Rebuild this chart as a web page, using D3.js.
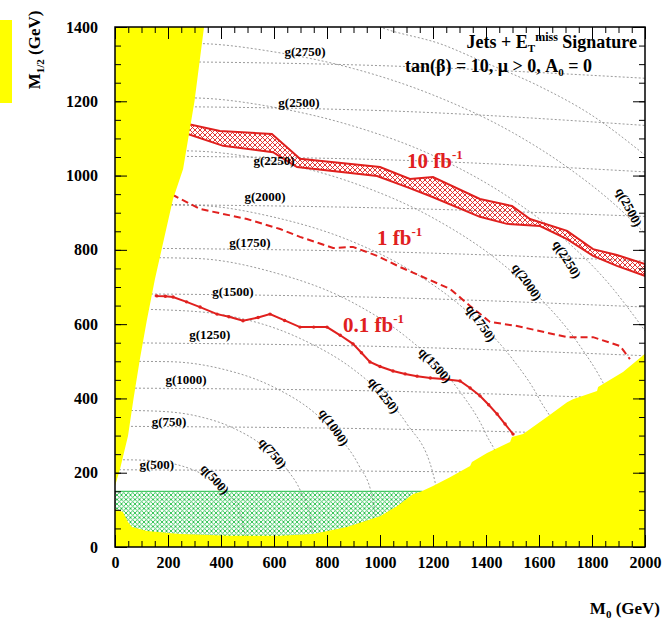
<!DOCTYPE html>
<html>
<head>
<meta charset="utf-8">
<script src="https://cdn.jsdelivr.net/npm/d3@7"></script>
<style>
body { margin: 0; background: #fff; }
svg text { font-family: "Liberation Serif", "DejaVu Serif", serif; font-weight: bold; }
</style>
</head>
<body>
<div id="chart"></div>
<script>
// Axis ticks
const m0Ticks = [0, 200, 400, 600, 800, 1000, 1200, 1400, 1600, 1800, 2000];
const m12Ticks = [0, 200, 400, 600, 800, 1000, 1200, 1400];

// Gluino mass contours: M1/2 at M0 = 0, 1000, 2000
const gluinoMasses = [500, 750, 1000, 1250, 1500, 1750, 2000, 2250, 2500, 2750];
const gluinoM12 = [
    [208, 204, 198], [325, 318, 300], [428, 420, 398], [550, 540, 515], [682, 672, 646],
    [805, 795, 770], [923, 913, 890], [1053, 1043, 1010], [1187, 1175, 1135], [1308, 1296, 1262]
];
const gluinoLabelPos = [
    [158, 223], [204, 339], [268, 452], [358, 573], [445, 689],
    [509, 821], [566, 945], [600, 1040], [694, 1198], [717, 1335]
];

// Squark mass contours [M0, M1/2]
const squarkMasses = [500, 750, 1000, 1250, 1500, 1750, 2000, 2250, 2500, 2750];
const squarkLines = [
    [[0, 235], [100, 234], [200, 227], [300, 206], [380, 175], [430, 140], [470, 96], [500, 0]],
    [[0, 368], [150, 366], [300, 354], [450, 319], [550, 277], [650, 208], [700, 151], [740, 69], [750, 0]],
    [[0, 500], [200, 499], [400, 480], [600, 430], [750, 363], [850, 293], [920, 220], [970, 137], [1000, 0]],
    [[0, 641], [200, 638], [400, 626], [700, 561], [900, 478], [1000, 417], [1100, 333], [1200, 198], [1250, 0]],
    [[0, 780], [300, 777], [600, 739], [900, 657], [1100, 565], [1200, 502], [1300, 420], [1400, 304], [1460, 195], [1500, 0]],
    [[0, 922], [300, 920], [600, 888], [900, 821], [1100, 751], [1300, 652], [1400, 587], [1500, 506], [1600, 400], [1700, 235], [1750, 0]],
    [[0, 1069], [300, 1066], [600, 1038], [900, 980], [1200, 886], [1450, 769], [1600, 673], [1750, 546], [1850, 430], [1950, 252], [2000, 0]],
    [[0, 1211], [300, 1209], [600, 1184], [900, 1133], [1200, 1054], [1500, 935], [1700, 826], [1850, 720], [2000, 582]],
    [[0, 1360], [340, 1355], [600, 1333], [900, 1288], [1200, 1217], [1500, 1116], [1700, 1026], [1900, 913], [2000, 844]],
    [[900, 1430], [1000, 1400], [1238, 1352], [1377, 1310], [1600, 1241], [1800, 1162], [2000, 1055]]
];
const squarkLabelPos = [
    [377, 183, 48], [596, 253, 50], [826, 323, 55], [1015, 409, 52], [1208, 490, 48],
    [1381, 603, 55], [1555, 714, 55], [1706, 775, 58], [1940, 915, 62], null
];

// Reach contours
const reach10Upper = [[250, 1140], [275, 1139], [396, 1120], [592, 1112], [698, 1045], [1000, 1023], [1113, 991], [1200, 996],
    [1377, 937], [1498, 918], [1566, 883], [1706, 851], [1804, 802], [1894, 786], [2000, 762]];
const reach10Lower = [[250, 1113], [275, 1112], [408, 1080], [596, 1063], [687, 1023], [989, 999], [1102, 969], [1189, 945],
    [1377, 889], [1479, 870], [1604, 864], [1706, 829], [1804, 784], [1894, 757], [2000, 730]];
const reach1 = [[215, 948], [226, 945], [321, 910], [498, 883], [623, 856], [698, 835], [823, 805], [898, 808], [989, 784],
    [1075, 754], [1264, 695], [1340, 649], [1415, 606], [1517, 595], [1706, 565], [1804, 565], [1906, 541], [1943, 506]];
const reach01 = [[150, 677], [158, 676], [190, 675], [219, 673], [270, 660], [321, 646], [385, 627], [430, 620], [483, 609],
    [540, 618], [585, 627], [640, 610], [698, 592], [750, 592], [800, 592], [850, 570], [898, 547], [930, 523], [962, 498],
    [1000, 486], [1049, 474], [1095, 466], [1140, 460], [1190, 455], [1238, 452], [1302, 447], [1340, 428], [1377, 407],
    [1410, 383], [1442, 358], [1472, 331], [1502, 304]];

// Excluded regions
const leftExcluded = [[0, 1400], [336, 1400], [300, 1200], [257, 1018], [219, 937], [185, 830], [151, 722], [120, 610],
    [94, 506], [70, 400], [49, 299], [19, 210], [0, 164]];
const bottomExcluded = [[0, 0], [0, 102], [30, 94], [49, 67], [64, 54], [121, 43], [245, 35], [434, 30], [623, 30], [747, 35],
    [875, 54], [1000, 83], [1064, 110], [1125, 143], [1151, 148], [1200, 164], [1264, 188], [1340, 218], [1347, 229],
    [1404, 253], [1491, 283], [1498, 296], [1540, 304], [1630, 350], [1706, 390], [1728, 398], [1819, 420], [1823, 431],
    [1917, 471], [2000, 520], [2000, 0]];
const lepBand = [0, 1160, 150]; // M0 from, M0 to, M1/2 top

const width = 670, height = 623;
const svg = d3.select("#chart")
    .append("svg")
    .attr("width", width)
    .attr("height", height);

const x = d3.scaleLinear().domain([0, 2000]).range([115, 645]);
const y = d3.scaleLinear().domain([0, 1400]).range([547, 27]);

const defs = svg.append("defs");
defs.append("clipPath").attr("id", "plot")
    .append("rect").attr("x", 115).attr("y", 27).attr("width", 530).attr("height", 520);

function hatch(id, color, size, sw) {
    const p = defs.append("pattern").attr("id", id)
        .attr("patternUnits", "userSpaceOnUse")
        .attr("width", size).attr("height", size);
    p.append("path")
        .attr("d", `M0,0L${size},${size}M${size},0L0,${size}`)
        .attr("stroke", color).attr("stroke-width", sw).attr("fill", "none");
}
hatch("redHatch", "#e0201e", 5, 0.9);
hatch("greenHatch", "#25c04a", 4.5, 0.9);

// little yellow block at far left
svg.append("rect").attr("x", 0).attr("y", 20).attr("width", 12).attr("height", 83).attr("fill", "#ffff00");

const plot = svg.append("g").attr("clip-path", "url(#plot)");

const line = d3.line().x(d => x(d[0])).y(d => y(d[1]));
const curve = d3.line().x(d => x(d[0])).y(d => y(d[1])).curve(d3.curveMonotoneX);

// gluino contours
plot.append("g").selectAll("path")
    .data(gluinoM12)
    .enter()
    .append("path")
    .attr("d", d => curve([[0, d[0]], [1000, d[1]], [2000, d[2]]]))
    .attr("fill", "none")
    .attr("stroke", "#808080")
    .attr("stroke-width", 0.8)
    .attr("stroke-dasharray", "2,2");

// squark contours
plot.append("g").selectAll("path")
    .data(squarkLines)
    .enter()
    .append("path")
    .attr("d", d => curve(d))
    .attr("fill", "none")
    .attr("stroke", "#808080")
    .attr("stroke-width", 0.8)
    .attr("stroke-dasharray", "2,2");

// contour labels
svg.append("g").selectAll("text")
    .data(gluinoMasses)
    .enter()
    .append("text")
    .attr("x", (d, i) => x(gluinoLabelPos[i][0]))
    .attr("y", (d, i) => y(gluinoLabelPos[i][1]))
    .attr("dy", "0.35em")
    .attr("text-anchor", "middle")
    .attr("font-size", 13)
    .text(d => `g(${d})`);

svg.append("g").selectAll("text")
    .data(squarkMasses.filter((d, i) => squarkLabelPos[i]))
    .enter()
    .append("text")
    .attr("transform", (d, i) => `translate(${x(squarkLabelPos[i][0])},${y(squarkLabelPos[i][1])}) rotate(${squarkLabelPos[i][2]})`)
    .attr("dy", "0.35em")
    .attr("text-anchor", "middle")
    .attr("font-size", 13)
    .text(d => `q(${d})`);

// LEP-like green band
plot.append("rect")
    .attr("x", x(lepBand[0]))
    .attr("y", y(lepBand[2]))
    .attr("width", x(lepBand[1]) - x(lepBand[0]))
    .attr("height", y(0) - y(lepBand[2]))
    .attr("fill", "url(#greenHatch)");
plot.append("line")
    .attr("x1", x(lepBand[0])).attr("x2", x(lepBand[1]))
    .attr("y1", y(lepBand[2])).attr("y2", y(lepBand[2]))
    .attr("stroke", "#25c04a").attr("stroke-width", 1);

// 10 fb-1 band
plot.append("path")
    .attr("d", line(reach10Upper.concat(reach10Lower.slice().reverse())) + "Z")
    .attr("fill", "url(#redHatch)")
    .attr("stroke", "#e0201e")
    .attr("stroke-width", 2);

// 1 fb-1
plot.append("path")
    .attr("d", line(reach1))
    .attr("fill", "none")
    .attr("stroke", "#e0201e")
    .attr("stroke-width", 2)
    .attr("stroke-dasharray", "7,4");

// 0.1 fb-1
plot.append("path")
    .attr("d", line(reach01))
    .attr("fill", "none")
    .attr("stroke", "#e0201e")
    .attr("stroke-width", 2);
plot.append("g").selectAll("circle")
    .data(reach01.slice(1))
    .enter()
    .append("circle")
    .attr("cx", d => x(d[0]))
    .attr("cy", d => y(d[1]))
    .attr("r", 1.7)
    .attr("fill", "#e0201e");

// excluded regions
plot.append("path").attr("d", line(leftExcluded) + "Z").attr("fill", "#ffff00");
plot.append("path").attr("d", line(bottomExcluded) + "Z").attr("fill", "#ffff00");

// frame
svg.append("rect")
    .attr("x", 115).attr("y", 27).attr("width", 530).attr("height", 520)
    .attr("fill", "none").attr("stroke", "#000").attr("stroke-width", 1.5);

// ticks on all four sides, pointing inside
const m0Minor = d3.range(0, 2001, 50);
const m12Minor = d3.range(0, 1401, 50);
function tickRow(axis, transform, vals, size) {
    svg.append("g")
        .attr("transform", transform)
        .call(axis.tickValues(vals).tickSize(size).tickFormat(""))
        .call(g => g.select(".domain").remove())
        .call(g => g.selectAll("line").attr("stroke", "#000").attr("stroke-width", 1));
}
tickRow(d3.axisBottom(x), "translate(0,547)", m0Minor, -6);
tickRow(d3.axisBottom(x), "translate(0,547)", m0Ticks, -12);
tickRow(d3.axisTop(x), "translate(0,27)", m0Minor, -6);
tickRow(d3.axisTop(x), "translate(0,27)", m0Ticks, -12);
tickRow(d3.axisLeft(y), "translate(115,0)", m12Minor, -6);
tickRow(d3.axisLeft(y), "translate(115,0)", m12Ticks, -12);
tickRow(d3.axisRight(y), "translate(645,0)", m12Minor, -6);
tickRow(d3.axisRight(y), "translate(645,0)", m12Ticks, -12);

// tick labels
svg.append("g")
    .attr("transform", "translate(0,547)")
    .call(d3.axisBottom(x).tickValues(m0Ticks).tickSize(0).tickPadding(10).tickFormat(d3.format("d")))
    .call(g => g.select(".domain").remove())
    .call(g => g.selectAll("text").attr("font-size", 16).attr("fill", "#000")
        .style("font-family", '"Liberation Serif", serif').style("font-weight", "bold"));
svg.append("g")
    .attr("transform", "translate(115,0)")
    .call(d3.axisLeft(y).tickValues(m12Ticks).tickSize(0).tickPadding(17).tickFormat(d3.format("d")))
    .call(g => g.select(".domain").remove())
    .call(g => g.selectAll("text").attr("font-size", 16).attr("fill", "#000")
        .style("font-family", '"Liberation Serif", serif').style("font-weight", "bold"));

// axis titles
const yt = svg.append("text")
    .attr("transform", "translate(40,50) rotate(-90)")
    .attr("text-anchor", "middle")
    .attr("font-size", 17);
yt.append("tspan").text("M");
yt.append("tspan").attr("font-size", 11).attr("dy", 4).text("1/2");
yt.append("tspan").attr("dy", -4).text(" (GeV)");

const xt = svg.append("text")
    .attr("x", 660).attr("y", 614)
    .attr("text-anchor", "end")
    .attr("font-size", 17);
xt.append("tspan").text("M");
xt.append("tspan").attr("font-size", 11).attr("dy", 4).text("0");
xt.append("tspan").attr("dy", -4).text(" (GeV)");

// header
const h1 = svg.append("text").attr("x", 637).attr("y", 48).attr("text-anchor", "end").attr("font-size", 18);
h1.append("tspan").text("Jets + E");
h1.append("tspan").attr("font-size", 11).attr("dy", 4).text("T");
h1.append("tspan").attr("font-size", 12).attr("dy", -11).text("miss");
h1.append("tspan").attr("dy", 7).text(" Signature");

const h2 = svg.append("text").attr("x", 405).attr("y", 72).attr("font-size", 18);
h2.append("tspan").text("tan(β) = 10, μ > 0, A");
h2.append("tspan").attr("font-size", 11).attr("dy", 4).text("0");
h2.append("tspan").attr("dy", -4).text(" = 0");

// reach labels
const reachLabels = [["10 fb", 407, 168, 21], ["1 fb", 377, 245, 21], ["0.1 fb", 343, 332, 21]];
reachLabels.forEach(r => {
    const t = svg.append("text").attr("x", r[1]).attr("y", r[2]).attr("font-size", r[3]).attr("fill", "#e0201e");
    t.append("tspan").text(r[0]);
    t.append("tspan").attr("font-size", 13).attr("dy", -9).text("-1");
});
</script>
</body>
</html>
